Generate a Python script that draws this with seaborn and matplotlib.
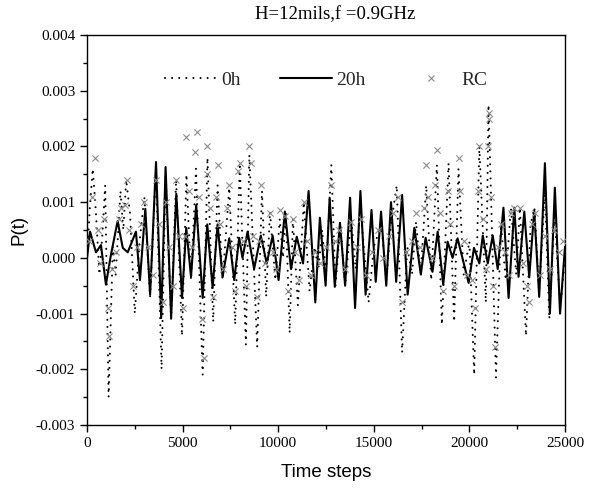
import numpy as np
import pandas as pd
import matplotlib
matplotlib.use("Agg")
import matplotlib.pyplot as plt
from matplotlib.lines import Line2D
from matplotlib.ticker import MultipleLocator, FormatStrFormatter
import seaborn as sns

# ---------------- data ----------------
title = "H=12mils,f =0.9GHz"
labels = ["0h", "20h", "RC"]

# 20h series (solid line), extrema
t_20h = [0, 160, 470, 730, 990, 1250, 1600, 1870, 2130, 2560, 2770, 3050,
         3300, 3610, 3880, 4110, 4400, 4670, 4970, 5190, 5440, 5710, 6050,
         6290, 6570, 6830, 7090, 7440, 7700, 7960, 8130, 8400, 8740, 9090,
         9400, 9710, 10020, 10350, 10670, 10970, 11300, 11590, 11940, 12180,
         12480, 12690, 12960, 13230, 13500, 13760, 14020, 14300, 14570, 14880,
         15100, 15380, 15650, 15900, 16170, 16480, 16770, 17120, 17460, 17710,
         18070, 18340, 18630, 18860, 19120, 19380, 19960, 20240, 20520, 20700,
         20960, 21220, 21480, 21780, 22050, 22350, 22570, 22870, 23130, 23390,
         23650, 23950, 24210, 24470, 24740, 25000]
v_20h = [0.0, 0.00047, 0.0001, 0.00023, -0.00048, 0.00005, 0.00066, 0.00018,
         0.0001, 0.00047, -0.0004, 0.00088, -0.00066, 0.00172, -0.00108,
         0.00163, -0.00108, 0.00115, -0.00072, 0.00054, -0.00034, 0.00095,
         -0.00072, 0.0006, -0.00054, 0.0006, -0.00034, 0.00035, -0.0004,
         0.00036, 0.0, 0.00047, -0.0002, 0.0004, -0.0001, 0.0004, -0.0004,
         0.00083, -0.0002, 0.00038, -0.0001, 0.0012, -0.0008, 0.00072,
         -0.0005, 0.00108, -0.00052, 0.00063, -0.0005, 0.00108, -0.0009,
         0.0012, -0.00066, 0.00086, -0.00043, 0.00083, -0.0005, 0.001,
         -0.00043, 0.00113, -0.00066, 0.00054, -0.0003, 0.00036, -0.00025,
         0.00047, -0.00048, 0.00029, 0.0, 0.00035, -0.00045, 0.00018,
         -0.0001, 0.0004, -0.0001, 0.0004, -0.0002, 0.0009, -0.00072, 0.0009,
         -0.00034, 0.00083, -0.00035, 0.00085, -0.0007, 0.0017, -0.001,
         0.00126, -0.001, 0.0002]

# 0h series (dotted line)
t_0h = [0, 150, 300, 450, 650, 800, 950, 1130, 1350, 1500, 1750, 1900, 2050,
        2250, 2500, 2750, 3000, 3300, 3610, 3900, 4110, 4400, 4660, 4970,
        5200, 5440, 5700, 6050, 6300, 6600, 6830, 7090, 7440, 7750, 7990,
        8310, 8490, 8900, 9150, 9370, 9570, 9850, 10080, 10250, 10400, 10600,
        10770, 11030, 11340, 11640, 11900, 12100, 12300, 12500, 12780, 13000,
        13250, 13500, 13820, 14050, 14300, 14730, 15000, 15400, 15650, 15900,
        16200, 16480, 16750, 17000, 17210, 17450, 17740, 18000, 18300, 18560,
        18910, 19200, 19430, 19700, 20000, 20250, 20520, 20860, 21000, 21390,
        21650, 21900, 22170, 22450, 22640, 22960, 23200, 23400, 23650, 23950,
        24180, 24450, 24750, 25000]
v_0h = [0.0, 0.0009, 0.0016, 0.0009, -0.0003, 0.0004, 0.0013, -0.0025, 0.0002,
        -0.0003, 0.0012, 0.0005, 0.0014, 0.0008, -0.001, 0.0003, 0.0011,
        -0.0007, 0.0016, -0.002, 0.0015, -0.0011, 0.0014, -0.0014, 0.0015,
        -0.0004, 0.0016, -0.0021, 0.0018, -0.00115, 0.0013, -0.0004, 0.00126,
        -0.0012, 0.0017, -0.00156, 0.00185, -0.0016, 0.0012, -0.0007, 0.00083,
        -0.0004, 0.0007, 0.0, 0.0008, -0.00135, 0.0007, -0.00085, 0.001,
        -0.0006, 0.0002, -0.0002, 0.0005, -0.0003, 0.00167, -0.0005, 0.0006,
        -0.0005, 0.0007, -0.0002, 0.0009, -0.0008, 0.0002, 0.0006, -0.0004,
        0.0006, 0.0013, -0.0017, 0.0002, -0.0003, 0.00065, -0.0003, 0.0013,
        -0.0004, 0.00167, -0.0012, 0.0017, -0.00115, 0.0016, -0.0003, 0.0003,
        -0.0021, 0.002, -0.0008, 0.00275, -0.00215, 0.0006, -0.0004, 0.0009,
        -0.0003, 0.0009, -0.0014, 0.0006, 0.0009, -0.0006, 0.0012, -0.0011,
        0.0008, -0.0009, 0.0]

# RC points (gray crosses)
t_rc = [100, 250, 400, 550, 700, 900, 1100, 1150, 1300, 1500, 1650, 1800,
        2000, 2070, 2200, 2400, 2600, 2800, 3000, 3200, 3450, 3600, 3750, 3950,
        4150, 4300, 4500, 4660, 4800, 5000, 5100, 5200, 5350, 5500, 5650, 5730,
        5850, 6000, 6100, 6250, 6300, 6450, 6600, 6750, 6830, 6950, 7100, 7300,
        7440, 7600, 7750, 7900, 7990, 8150, 8300, 8490, 8560, 8700, 8900, 9000,
        9100, 9300, 9570, 9750, 9900, 10080, 10350, 10500, 10770, 10900, 11100,
        11340, 11500, 11700, 11900, 12200, 12500, 12780, 12950, 13200, 13500,
        13820, 14100, 14350, 14600, 14900, 15200, 15500, 15800, 16000, 16250,
        16450, 16700, 17000, 17210, 17400, 17600, 17740, 17850, 18050, 18200,
        18300, 18450, 18600, 18870, 19000, 19200, 19430, 19500, 19700, 19900,
        20150, 20300, 20450, 20520, 20700, 20850, 20950, 21000, 21050, 21150,
        21250, 21350, 21500, 21650, 21850, 22050, 22200, 22350, 22640, 22800,
        23000, 23100, 23300, 23450, 23700, 23950, 24200, 24450, 24700, 24900]
v_rc = [0.0003, 0.0011, 0.0018, 0.0005, -0.0001, 0.0007, -0.0009, -0.0014,
        -0.0002, 0.0001, 0.0007, 0.0009, 0.00095, 0.0014, 0.0005, -0.0005,
        0.0002, 0.0006, 0.001, 0.0002, -0.0003, 0.0014, 0.0006, -0.0008,
        0.001, 0.0002, -0.0005, 0.0014, 0.0004, -0.0009, 0.0004, 0.00217,
        0.0012, 0.0002, 0.0019, 0.00226, 0.0011, -0.0011, -0.0018, 0.0015,
        0.002, 0.0009, -0.0007, 0.0011, 0.00167, 0.0006, -0.0002, 0.0009,
        0.0013, 0.0002, -0.0006, 0.00155, 0.0017, 0.0003, -0.0005, 0.002,
        0.0017, 0.0004, -0.0007, 0.0003, 0.0013, -0.0001, 0.0008, 0.0001,
        -0.0002, 0.00085, 0.00075, -0.0006, 0.0007, 0.0001, -0.0004, 0.001,
        0.0003, -0.0003, 0.0001, -0.0001, 0.0002, 0.0013, 0.0003, 0.0005,
        -0.0002, 0.00065, 0.0002, 0.0007, -0.0003, 0.0001, 0.0005, 0.0,
        0.0004, 0.0008, 0.0011, -0.0008, 0.0001, 0.0003, 0.0008, 0.0002,
        0.0009, 0.00167, 0.0011, 0.0, 0.0013, 0.00194, 0.0008, -0.0006,
        0.0012, 0.0006, -0.0005, 0.0018, 0.0012, 0.0003, -0.0003, -0.0004,
        -0.0009, 0.0012, 0.002, 0.0007, -0.0002, 0.002, 0.0026, 0.0025,
        0.0011, -0.0005, -0.0016, 0.0002, 0.0006, 0.0001, -0.0003, 0.0008,
        0.0009, 0.0009, -0.0001, -0.0005, -0.0008, 0.0006, 0.0008, -0.0003,
        0.0004, -0.0002, 0.0005, 0.0001, 0.0003]

df20 = pd.DataFrame({"t": t_20h, "v": v_20h})
df0 = pd.DataFrame({"t": t_0h, "v": v_0h})
dfrc = pd.DataFrame({"t": t_rc, "v": v_rc})

# ---------------- style ----------------
sns.set_theme(style="ticks")
plt.rcParams["font.family"] = ["Liberation Serif", "DejaVu Serif"]
plt.rcParams["axes.unicode_minus"] = False

fig = plt.figure(figsize=(5.98, 4.96), dpi=100)
ax = fig.add_axes([87 / 598, 1 - 425 / 496, (565 - 87) / 598, (425 - 35) / 496])

dot_style = (0, (0.01, 3.4))
sns.lineplot(data=df0, x="t", y="v", ax=ax, color="black", linewidth=1.5,
             linestyle=dot_style, estimator=None, sort=False,
             dash_capstyle="round")
sns.lineplot(data=df20, x="t", y="v", ax=ax, color="black", linewidth=1.5,
             estimator=None, sort=False, solid_joinstyle="round")
sns.scatterplot(data=dfrc, x="t", y="v", ax=ax, marker="x", color="#8a8a8a",
                s=20, linewidth=0.8, zorder=3)

ax.set_xlim(0, 25000)
ax.set_ylim(-0.003, 0.004)
ax.xaxis.set_major_locator(MultipleLocator(5000))
ax.xaxis.set_minor_locator(MultipleLocator(2500))
ax.yaxis.set_major_locator(MultipleLocator(0.001))
ax.yaxis.set_minor_locator(MultipleLocator(0.0005))
ax.yaxis.set_major_formatter(FormatStrFormatter("%.3f"))

ax.tick_params(axis="both", which="major", direction="out", length=5,
               width=1.0, labelsize=11, pad=3.5, color="black",
               labelcolor="black", top=False, right=False)
ax.tick_params(axis="both", which="minor", direction="out", length=3,
               width=1.0, top=False, right=False, color="black")
for lab in ax.get_xticklabels() + ax.get_yticklabels():
    lab.set_fontfamily(["Liberation Serif", "DejaVu Serif"])

for sp in ax.spines.values():
    sp.set_visible(True)
    sp.set_color("black")
    sp.set_linewidth(1.0)

ax.set_xlabel("Time steps", fontsize=13.5, family=["Liberation Sans", "DejaVu Sans"],
              labelpad=10, color="black")
ax.set_ylabel("P(t)", fontsize=13.5, family=["Liberation Sans", "DejaVu Sans"],
              labelpad=6, color="black")

fig.text(0.56, 1 - 15 / 496, title, ha="center", va="center", fontsize=13.5,
         family=["Liberation Serif", "DejaVu Serif"], color="black")

handles = [
    Line2D([], [], color="black", linewidth=1.5, linestyle=dot_style,
           dash_capstyle="round"),
    Line2D([], [], color="black", linewidth=1.5),
    Line2D([], [], color="#8a8a8a", marker="x", linestyle="none",
           markersize=5, markeredgewidth=0.8),
]
ax.legend(handles, labels, loc="center", bbox_to_anchor=(0.5, 0.885), ncol=3,
          frameon=False, handlelength=2.7, handletextpad=0.2,
          columnspacing=2.0, prop={"family": "Liberation Serif", "size": 14})

fig.savefig("out.png", dpi=100)
